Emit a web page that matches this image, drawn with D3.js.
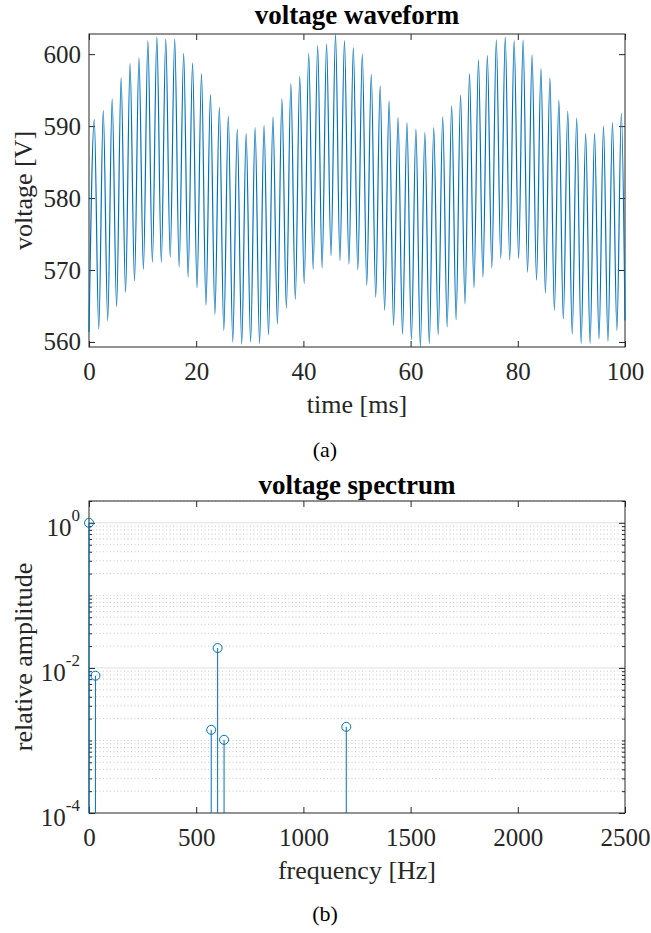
<!DOCTYPE html>
<html>
<head>
<meta charset="utf-8">
<script src="https://cdn.jsdelivr.net/npm/d3@7/dist/d3.min.js"></script>
<style>
body{margin:0;background:#fff}
svg{font-family:"Liberation Serif","Times New Roman",serif}
text{font-family:"Liberation Serif","Times New Roman",serif;fill:#262626}
</style>
</head>
<body>
<script>
// waveform: local maxima and minima of the ripple
const peakTime=[0.99,2.66,4.32,5.99,7.66,9.32,10.99,12.66,14.32,15.99,17.66,19.32,20.99,22.66,24.32,25.99,27.66,29.32,30.99,32.66,
  34.32,35.99,37.66,39.32,40.99,42.66,44.32,45.99,47.66,49.32,50.99,52.66,54.32,55.99,57.66,59.32,60.99,62.66,64.32,65.99,
  67.66,69.32,70.99,72.66,74.32,75.99,77.66,79.32,80.99,82.66,84.32,85.99,87.66,89.32,90.99,92.66,94.32,95.99,97.66,99.32]
const peakVolt=[590.9,592.2,593.8,596.7,598.7,599.5,601.9,602.4,602.1,602.1,600.1,598.8,597.3,594.4,592.6,591.4,589.6,589.0,589.8,590.1,
  591.3,593.8,595.9,596.9,600.1,601.2,601.4,602.8,601.9,600.9,600.0,597.2,595.6,593.5,591.2,590.5,589.6,589.1,589.8,591.3,
  592.8,594.3,597.3,599.2,599.8,602.0,602.4,601.9,602.0,599.9,598.0,596.7,593.6,592.1,591.1,589.0,589.0,590.0,590.5,591.8]
const troughTime=[0,1.82,3.49,5.15,6.82,8.49,10.15,11.82,13.49,15.15,16.82,18.49,20.15,21.82,23.49,25.15,26.82,28.49,30.15,31.82,
  33.49,35.15,36.82,38.49,40.15,41.82,43.49,45.15,46.82,48.49,50.15,51.82,53.49,55.15,56.82,58.49,60.15,61.82,63.49,65.15,
  66.82,68.49,70.15,71.82,73.49,75.15,76.82,78.49,80.15,81.82,83.49,85.15,86.82,88.49,90.15,91.82,93.49,95.15,96.82,98.49,100]
const troughVolt=[561.4,561.8,563.0,564.9,566.9,568.5,570.1,571.1,571.1,571.8,570.4,569.0,567.5,565.1,563.8,561.6,560.0,559.7,560.0,559.8,
  561.0,562.5,564.7,565.9,568.1,570.1,570.3,572.0,571.3,570.8,570.0,567.9,566.2,564.4,562.3,561.1,560.3,559.3,559.8,561.0,
  562.1,563.1,565.3,567.5,569.0,570.3,571.6,571.4,571.6,569.7,568.6,566.8,564.4,563.2,561.1,559.8,559.8,560.4,560.1,561.6,563.0]
const timeTicks=[0,20,40,60,80,100]
const voltTicks=[560,570,580,590,600]

// spectrum
const specFreq=[0,30,570,600,630,1200]
const specAmp=[1,0.0078,0.0014,0.0188,0.00102,0.00154]
const freqTicks=[0,500,1000,1500,2000,2500]
const ampMajor=[1e-4,1e-2,1]
const ampExp=[-4,-2,0]

const blue="#0072BD", axc="#262626", serif='"Liberation Serif","Times New Roman",serif'

const svg=d3.select("body").append("svg")
  .attr("width",651).attr("height",933)
  .attr("font-family",serif)

// ---------- (a) waveform ----------
const L=89,R=625,T1=34,B1=347
const x1=d3.scaleLinear().domain([0,100]).range([L,R])
const y1=d3.scaleLinear().domain([559.3,602.8]).range([B1,T1])

const wave=peakTime.map((t,i)=>({t:t,v:peakVolt[i]}))
  .concat(troughTime.map((t,i)=>({t:t,v:troughVolt[i]})))
  .sort((a,b)=>a.t-b.t)

function styleAxis(g){
  g.attr("font-family",serif).attr("font-size",25)
  g.select(".domain").remove()
  g.selectAll("line").attr("stroke",axc)
  g.selectAll("text").attr("fill",axc).attr("font-family",serif).attr("font-size",25)
}

svg.append("g").attr("transform",`translate(0,${B1})`)
  .call(d3.axisBottom(x1).tickValues(timeTicks).tickSize(-6).tickPadding(15).tickFormat(d3.format("d")))
  .call(styleAxis)
svg.append("g").attr("transform",`translate(0,${T1})`)
  .call(d3.axisTop(x1).tickValues(timeTicks).tickSize(-6).tickFormat(""))
  .call(styleAxis)
svg.append("g").attr("transform",`translate(${L},0)`)
  .call(d3.axisLeft(y1).tickValues(voltTicks).tickSize(-6).tickPadding(8).tickFormat(d3.format("d")))
  .call(styleAxis)
svg.append("g").attr("transform",`translate(${R},0)`)
  .call(d3.axisRight(y1).tickValues(voltTicks).tickSize(-6).tickFormat(""))
  .call(styleAxis)

svg.append("rect").attr("x",L).attr("y",T1).attr("width",R-L).attr("height",B1-T1)
  .attr("fill","none").attr("stroke",axc).attr("stroke-width",1)

svg.append("path")
  .datum(wave)
  .attr("fill","none")
  .attr("stroke",blue)
  .attr("stroke-width",1.2)
  .attr("d",d3.line().x(d=>x1(d.t)).y(d=>y1(d.v)).curve(d3.curveMonotoneX))

svg.append("text").attr("x",(L+R)/2).attr("y",24).attr("text-anchor","middle")
  .attr("font-size",27).attr("font-weight","bold").style("fill","#000").text("voltage waveform")
svg.append("text").attr("x",(L+R)/2).attr("y",413).attr("text-anchor","middle")
  .attr("font-size",26).text("time [ms]")
svg.append("text").attr("transform",`translate(32,${(T1+B1)/2}) rotate(-90)`).attr("text-anchor","middle")
  .attr("font-size",26).text("voltage [V]")
svg.append("text").attr("x",325).attr("y",457).attr("text-anchor","middle")
  .attr("font-size",22).style("fill","#000").text("(a)")

// ---------- (b) spectrum ----------
const T2=501,B2=813
const x2=d3.scaleLinear().domain([0,2500]).range([L,R])
const y2=d3.scaleLog().domain([1e-4,2]).range([B2,T2])

const minorVals=[]
for(let e=-4;e<=0;e++){
  for(let m=1;m<=9;m++){
    const v=m*Math.pow(10,e)
    if(v>2.0001) continue
    if(ampMajor.some(a=>Math.abs(a-v)/v<1e-6)) continue
    minorVals.push(v)
  }
}

const grid=svg.append("g")
grid.selectAll("line.minor").data(minorVals).join("line")
  .attr("x1",L).attr("x2",R).attr("y1",d=>y2(d)).attr("y2",d=>y2(d))
  .attr("stroke","#c8c8c8").attr("stroke-width",1).attr("stroke-dasharray","1,2.5")
grid.selectAll("line.major").data(ampMajor.filter(d=>d>1e-4)).join("line")
  .attr("x1",L).attr("x2",R).attr("y1",d=>y2(d)).attr("y2",d=>y2(d))
  .attr("stroke","#e0e0e0").attr("stroke-width",1)

svg.append("g").attr("transform",`translate(0,${B2})`)
  .call(d3.axisBottom(x2).tickValues(freqTicks).tickSize(-6).tickPadding(15).tickFormat(d3.format("d")))
  .call(styleAxis)
svg.append("g").attr("transform",`translate(0,${T2})`)
  .call(d3.axisTop(x2).tickValues(freqTicks).tickSize(-6).tickFormat(""))
  .call(styleAxis)
svg.append("g").attr("transform",`translate(${L},0)`)
  .call(d3.axisLeft(y2).tickValues(ampMajor).tickSize(-6).tickFormat(""))
  .call(styleAxis)
svg.append("g").attr("transform",`translate(${R},0)`)
  .call(d3.axisRight(y2).tickValues(ampMajor).tickSize(-6).tickFormat(""))
  .call(styleAxis)
svg.append("g").attr("transform",`translate(${L},0)`)
  .call(d3.axisLeft(y2).tickValues(minorVals).tickSize(-3).tickFormat(""))
  .call(styleAxis)
svg.append("g").attr("transform",`translate(${R},0)`)
  .call(d3.axisRight(y2).tickValues(minorVals).tickSize(-3).tickFormat(""))
  .call(styleAxis)

const ylab=svg.append("g")
ampMajor.forEach((v,i)=>{
  const t=ylab.append("text").attr("x",80).attr("y",y2(v)+13).attr("text-anchor","end")
    .attr("font-size",25).style("fill",axc)
  t.append("tspan").text("10")
  t.append("tspan").attr("font-size",17).attr("dy",-15).text(ampExp[i])
})

svg.append("rect").attr("x",L).attr("y",T2).attr("width",R-L).attr("height",B2-T2)
  .attr("fill","none").attr("stroke",axc).attr("stroke-width",1)

const stems=svg.append("g")
stems.selectAll("line").data(specFreq).join("line")
  .attr("x1",d=>x2(d)).attr("x2",d=>x2(d))
  .attr("y1",(d,i)=>y2(specAmp[i])).attr("y2",B2)
  .attr("stroke",blue).attr("stroke-width",1)
stems.selectAll("circle").data(specFreq).join("circle")
  .attr("cx",d=>x2(d)).attr("cy",(d,i)=>y2(specAmp[i])).attr("r",4.5)
  .attr("fill","none").attr("stroke",blue).attr("stroke-width",1)

svg.append("text").attr("x",(L+R)/2).attr("y",494).attr("text-anchor","middle")
  .attr("font-size",27).attr("font-weight","bold").style("fill","#000").text("voltage spectrum")
svg.append("text").attr("x",(L+R)/2).attr("y",879).attr("text-anchor","middle")
  .attr("font-size",26).text("frequency [Hz]")
svg.append("text").attr("transform",`translate(32,${(T2+B2)/2}) rotate(-90)`).attr("text-anchor","middle")
  .attr("font-size",26).text("relative amplitude")
svg.append("text").attr("x",325).attr("y",921).attr("text-anchor","middle")
  .attr("font-size",22).style("fill","#000").text("(b)")
</script>
</body>
</html>
